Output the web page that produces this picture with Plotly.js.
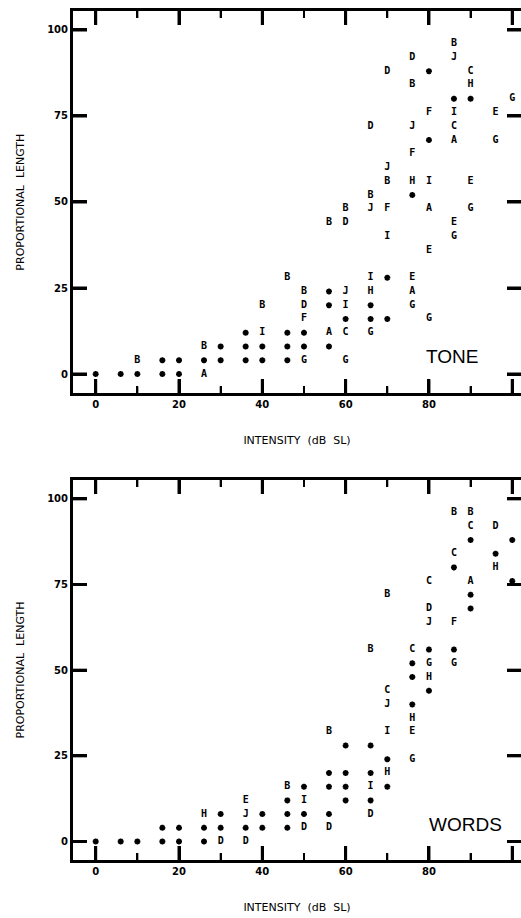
<!DOCTYPE html>
<html>
<head>
<meta charset="utf-8">
<script src="https://cdn.plot.ly/plotly-3.0.1.min.js"></script>
<style>
  html, body { margin: 0; padding: 0; background: #fff; overflow: hidden; }
  #chart { width: 521px; height: 918px; }
</style>
</head>
<body>
<div id="chart"></div>
<script>
// ---------- DATA (intensity dB SL, proportional length) ----------
const xTicks = [0, 20, 40, 60, 80, 100];
const xMinorTicks = [10, 30, 50, 70, 90];
const yTicks = [0, 25, 50, 75, 100];
const subjects = ['A', 'B', 'C', 'D', 'E', 'F', 'G', 'H', 'I', 'J'];

// TONE panel: points per subject [intensity, proportional length]
const toneA = [[26,0],[56,12],[76,24],[80,48],[86,68]];
const toneB = [[10,4],[26,8],[40,20],[46,28],[50,24],[56,44],[60,48],[66,52],[70,56],[76,84],[86,96]];
const toneC = [[60,12],[86,72],[90,88]];
const toneD = [[50,20],[60,44],[66,72],[70,88],[76,92]];
const toneE = [[76,28],[80,36],[86,44],[90,56],[96,76]];
const toneF = [[50,16],[70,48],[76,64],[80,76]];
const toneG = [[50,4],[60,4],[66,12],[76,20],[80,16],[86,40],[90,48],[96,68],[100,80]];
const toneH = [[66,24],[76,56],[90,84]];
const toneI = [[40,12],[60,20],[66,28],[70,40],[80,56],[86,76]];
const toneJ = [[60,24],[66,48],[70,60],[76,72],[86,92]];
// asterisks (coinciding points)
const toneStar = [[0,0],[6,0],[10,0],[16,0],[20,0],[16,4],[20,4],[26,4],[30,4],[36,4],[40,4],[46,4],
  [30,8],[36,8],[40,8],[46,8],[50,8],[56,8],[36,12],[46,12],[50,12],[60,16],[66,16],[70,16],
  [56,20],[66,20],[56,24],[70,28],[76,52],[80,68],[86,80],[90,80],[80,88]];

// WORDS panel
const wordsA = [[90,76]];
const wordsB = [[46,16],[56,32],[66,56],[70,72],[86,96],[90,96]];
const wordsC = [[70,44],[76,56],[80,76],[86,84],[90,92]];
const wordsD = [[30,0],[36,0],[50,4],[56,4],[66,8],[80,68],[96,92]];
const wordsE = [[36,12],[76,32]];
const wordsF = [[86,64]];
const wordsG = [[76,24],[80,52],[86,52]];
const wordsH = [[26,8],[70,20],[76,36],[80,48],[96,80]];
const wordsI = [[50,12],[66,16],[70,32]];
const wordsJ = [[36,8],[70,40],[80,64]];
const wordsStar = [[0,0],[6,0],[10,0],[16,0],[20,0],[26,0],[16,4],[20,4],[26,4],[30,4],[36,4],[40,4],[46,4],
  [30,8],[40,8],[46,8],[50,8],[56,8],[46,12],[60,12],[66,12],[50,16],[56,16],[60,16],[70,16],
  [56,20],[60,20],[66,20],[70,24],[60,28],[66,28],[76,40],[80,44],[76,48],[76,52],[80,56],[86,56],
  [90,68],[90,72],[86,80],[96,84],[90,88],[100,88],[100,76]];

const panelNames = ['TONE', 'WORDS'];
const xTitle = 'INTENSITY\u00A0 (dB\u00A0 SL)';
const yTitle = 'PROPORTIONAL\u00A0 LENGTH';

// ---------- AXIS FRAME SETTINGS ----------
const xRange = [-5.45, 102.1];
const yRangeTone = [-5.6, 105.5];
const yRangeWords = [-5.4, 105.5];
const plotWidthPx = 448;
const toneHeightPx = 382.3, wordsHeightPx = 380;

// ---------- BUILD ----------
const tonePts = [toneA, toneB, toneC, toneD, toneE, toneF, toneG, toneH, toneI, toneJ];
const wordsPts = [wordsA, wordsB, wordsC, wordsD, wordsE, wordsF, wordsG, wordsH, wordsI, wordsJ];

const letterFont = { family: 'DejaVu Sans Mono, monospace', size: 10, color: '#000', weight: 'bold' };
const traces = [];

// inward tick marks on all four sides of a panel, at the tick values
function addTickMarks(xa, ya, yRange, heightPx) {
  const pxPerY = heightPx / (yRange[1] - yRange[0]);
  const pxPerX = plotWidthPx / (xRange[1] - xRange[0]);
  const seg = (vals, lenPx, width, vertical) => {
    const xs = [], ys = [];
    vals.forEach(v => {
      if (vertical) {
        const l = lenPx / pxPerY;
        xs.push(v, v, null, v, v, null);
        ys.push(yRange[0], yRange[0] + l, null, yRange[1], yRange[1] - l, null);
      } else {
        const l = lenPx / pxPerX;
        xs.push(xRange[0], xRange[0] + l, null, xRange[1], xRange[1] - l, null);
        ys.push(v, v, null, v, v, null);
      }
    });
    traces.push({ type: 'scatter', mode: 'lines', xaxis: xa, yaxis: ya, x: xs, y: ys,
      line: { color: '#000', width: width }, hoverinfo: 'skip', showlegend: false });
  };
  seg(xTicks, 14, 3, true);
  seg(xMinorTicks, 7, 2, true);
  seg(yTicks, 14, 3, false);
}

function addPanel(sets, stars, xa, ya) {
  sets.forEach((pts, i) => {
    traces.push({
      type: 'scatter', mode: 'text', xaxis: xa, yaxis: ya,
      name: subjects[i],
      x: pts.map(p => p[0]), y: pts.map(p => p[1]),
      text: pts.map(() => subjects[i]),
      textposition: 'middle center', textfont: letterFont,
      hoverinfo: 'x+y+name', showlegend: false, cliponaxis: false
    });
  });
  traces.push({
    type: 'scatter', mode: 'markers', xaxis: xa, yaxis: ya, name: '*',
    x: stars.map(p => p[0]), y: stars.map(p => p[1]),
    marker: { symbol: 'asterisk-open', size: 5, color: '#000', line: { width: 1.8, color: '#000' } },
    showlegend: false, cliponaxis: false
  });
}
addTickMarks('x', 'y', yRangeTone, toneHeightPx);
addTickMarks('x2', 'y2', yRangeWords, wordsHeightPx);
addPanel(tonePts, toneStar, 'x', 'y');
addPanel(wordsPts, wordsStar, 'x2', 'y2');

const tickFont = { family: 'DejaVu Sans, sans-serif', size: 10, color: '#000', weight: 'bold' };
const titleFont = { family: 'DejaVu Sans, sans-serif', size: 11, color: '#000' };

function xAxis(anchor) {
  return {
    anchor: anchor, domain: [0, 1], range: xRange,
    tickmode: 'array', tickvals: xTicks, ticktext: xTicks.map(String),
    ticks: 'inside', ticklen: 14, tickwidth: 3, tickcolor: '#000',
    minor: { tickmode: 'array', tickvals: xMinorTicks, ticks: 'inside', ticklen: 7, tickwidth: 2, tickcolor: '#000', showgrid: false },
    showline: true, linewidth: 3, linecolor: '#000', mirror: 'ticks',
    showgrid: false, zeroline: false, tickfont: tickFont,
    title: { text: xTitle, font: titleFont, standoff: 28 }
  };
}
function yAxis(anchor, domain, range) {
  return {
    anchor: anchor, domain: domain, range: range,
    tickmode: 'array', tickvals: yTicks, ticktext: yTicks.map(String),
    ticks: 'inside', ticklen: 14, tickwidth: 3, tickcolor: '#000',
    showline: true, linewidth: 3, linecolor: '#000', mirror: 'ticks',
    showgrid: false, zeroline: false, tickfont: tickFont,
    title: { text: yTitle, font: titleFont, standoff: 21 }
  };
}

const layout = {
  width: 521, height: 918,
  margin: { l: 73, r: 0, t: 0, b: 0 },
  paper_bgcolor: '#fff', plot_bgcolor: '#fff',
  showlegend: false,
  xaxis: xAxis('y'),
  yaxis: yAxis('x', [1 - 393.3 / 918, 1 - 11 / 918], yRangeTone),
  xaxis2: xAxis('y2'),
  yaxis2: yAxis('x2', [1 - 860 / 918, 1 - 480 / 918], yRangeWords),
  annotations: [
    { xref: 'x', yref: 'y', x: 85.5, y: 5, text: panelNames[0], showarrow: false,
      font: { family: 'Liberation Sans, Arial, sans-serif', size: 19, color: '#000' } },
    { xref: 'x2', yref: 'y2', x: 88.7, y: 5, text: panelNames[1], showarrow: false,
      font: { family: 'Liberation Sans, Arial, sans-serif', size: 19, color: '#000' } }
  ]
};

Plotly.newPlot('chart', traces, layout, { displayModeBar: false, staticPlot: true });
</script>
</body>
</html>
